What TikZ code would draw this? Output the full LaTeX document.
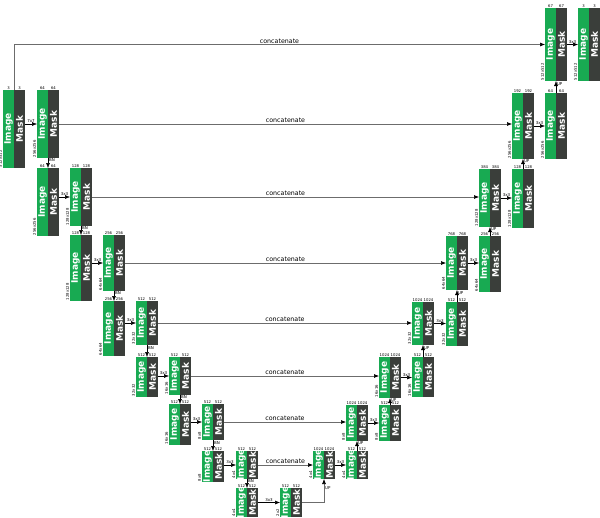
\documentclass[tikz,border=0pt]{standalone}
\usepackage{fontspec}
\setmainfont{DejaVu Sans}
\usepackage{tikz}
\usetikzlibrary{arrows.meta, positioning, calc}

\definecolor{imggreen}{RGB}{24,170,82}
\definecolor{maskgray}{RGB}{58,62,58}

\tikzset{
  half/.style={inner sep=0pt, outer sep=0pt, minimum width=11pt},
  imghalf/.style={half, fill=imggreen},
  maskhalf/.style={half, fill=maskgray},
  halftext/.style={text=white, font=\fontsize{9}{9}\selectfont\bfseries, inner sep=0pt},
  chanlabel/.style={font=\fontsize{3.8}{4}\selectfont, inner sep=0.7pt},
  sizelabel/.style={font=\fontsize{3.8}{4}\selectfont, inner sep=0.8pt},
  oplabel/.style={font=\fontsize{4}{4.5}\selectfont, inner sep=0.8pt},
  cattext/.style={font=\fontsize{6.3}{7}\selectfont, inner sep=1pt},
  tip/.style={-{Latex[length=5pt, width=4pt, black]}},
  concat/.style={draw=gray!85!black, tip, line width=0.6pt},
  conv/.style={draw=black, tip, line width=0.5pt},
}

% one block: name, left x, top y, height, channels, size
\newcommand{\unetblock}[6]{%
  \node[imghalf, minimum height=#4pt, anchor=north west] (#1) at (#2,#3) {};
  \node[maskhalf, minimum height=#4pt, anchor=north west] (#1-m) at (#1.north east) {};
  \node[halftext, rotate=90] (#1-t) at (#1) {Image};
  \node[halftext, rotate=90] (#1-mt) at (#1-m) {Mask};
  \node[chanlabel, anchor=south] (#1-c) at (#1.north) {#5};
  \node[chanlabel, anchor=south] (#1-mc) at (#1-m.north) {#5};
  \node[sizelabel, rotate=90, anchor=south west] (#1-s) at (#1.south west) {#6};
}

\begin{document}
\begin{tikzpicture}[x=1pt, y=-1pt]
\useasboundingbox (0,0) rectangle (600,517);

% Encoder blocks
\foreach \n/\x/\y/\h/\c/\s in {
    E0a/3/90/78/3/512x512, E0b/37/90/68/64/256x256,
    E1a/37/168/68/64/256x256, E1b/70/168/58/128/128x128,
    E2a/70/235/66/128/128x128, E2b/103/235/56/256/64x64,
    E3a/103/301/55/256/64x64, E3b/136/301/44/512/32x32,
    E4a/136/357/40/512/32x32, E4b/169/357/38/512/16x16,
    E5a/169/404/41/512/16x16, E5b/202/404/36/512/8x8,
    E6a/202/451/31/512/8x8, E6b/236/451/28/512/4x4,
    E7a/236/488/29/512/4x4, E7b/280/488/29/512/2x2} {
  \unetblock{\n}{\x}{\y}{\h}{\c}{\s}
}

% Decoder blocks
\foreach \n/\x/\y/\h/\c/\s in {
    D6c/313/451/28/1024/4x4, D6d/346/451/28/512/4x4,
    D5c/346/405/36/1024/8x8, D5d/379/405/36/512/8x8,
    D4c/379/357/41/1024/16x16, D4d/412/357/40/512/16x16,
    D3c/412/302/43/1024/32x32, D3d/446/302/44/512/32x32,
    D2c/446/236/54/768/64x64, D2d/479/236/56/256/64x64,
    D1c/479/169/58/384/128x128, D1d/512/169/59/128/128x128,
    D0c/512/93/66/192/256x256, D0d/545/93/66/64/256x256,
    T0c/545/8/73/67/512x512, T0d/578/8/73/3/512x512} {
  \unetblock{\n}{\x}{\y}{\h}{\c}{\s}
}

% Encoder convs
\foreach \a/\b/\t in {E0a/E0b/7x7, E1a/E1b/3x3, E2a/E2b/3x3, E3a/E3b/3x3,
    E4a/E4b/3x3, E5a/E5b/3x3, E6a/E6b/3x3, E7a/E7b/3x3} {
  \draw[conv] (\b.west -| \a-m.east) -- node[above, oplabel] (\a-op) {\t} (\b.west);
}
\foreach \a/\b in {E0b/E1a, E1b/E2a, E2b/E3a, E3b/E4a, E4b/E5a, E5b/E6a, E6b/E7a} {
  \draw[conv] (\a.south east) -- node[pos=0.25, anchor=west, oplabel] (\a-bn) {BN} (\b.north east);
}

% Decoder convs
\foreach \a/\b in {D6c/D6d, D5c/D5d, D4c/D4d, D3c/D3d, D2c/D2d, D1c/D1d, D0c/D0d, T0c/T0d} {
  \draw[conv] (\a-m.east) -- node[above, oplabel] (\a-op) {3x3} (\a-m.east -| \b.west);
}
\foreach \a/\b in {D6d/D5c, D5d/D4c, D4d/D3c, D3d/D2c, D2d/D1c, D1d/D0c, D0d/T0c} {
  \draw[conv] (\a.north east) -- node[pos=0.75, anchor=west, oplabel] (\a-up) {UP} (\b.south east);
}

% Skip connections
\draw[concat] (E0a.north east) |- node[pos=0.75, above, cattext] (E0a-cat) {concatenate} (T0c.west);
\foreach \a/\b in {E0b/D0c, E1b/D1c, E2b/D2c, E3b/D3c, E4b/D4c, E5b/D5c, E6b/D6c} {
  \draw[concat] (\a-m.east) -- node[above, cattext] (\a-cat) {concatenate} (\a-m.east -| \b.west);
}
\draw[concat] (E7b-m.east) -| node[pos=0.8, anchor=west, oplabel] (E7b-up) {UP} (D6c.south east);
\end{tikzpicture}
\end{document}
